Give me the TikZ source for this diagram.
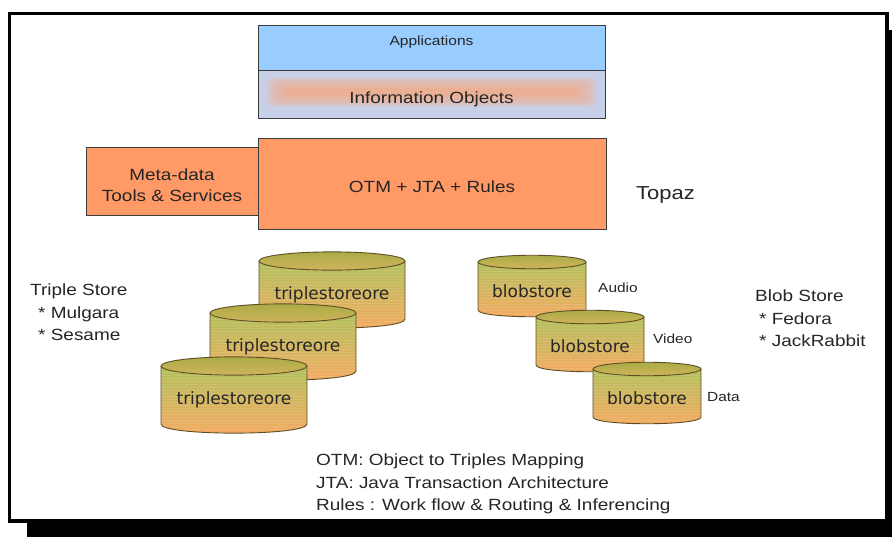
\documentclass[tikz,border=0pt]{standalone}
\usepackage{fontspec}
\setmainfont[FakeStretch=1.17]{Liberation Sans}
\newfontfamily\drumfont{DejaVu Sans}
\usetikzlibrary{calc}
\definecolor{appblue}{RGB}{153,204,255}
\definecolor{infogray}{RGB}{200,207,232}
\definecolor{gloworange}{RGB}{255,165,115}
\definecolor{boxorange}{RGB}{255,153,102}
\definecolor{edgegray}{RGB}{60,60,60}
\definecolor{drumgreen}{RGB}{178,192,92}
\definecolor{drumorange}{RGB}{246,170,98}
\definecolor{lidgreen}{RGB}{170,172,70}
\definecolor{lidtan}{RGB}{208,180,92}
\definecolor{drumbrown}{RGB}{95,78,35}

% storage drum: name, centre x, lid y, half width, body depth, label
\newcommand{\drum}[6]{%
  \path[drumshade] (#2-#4,#3) -- (#2-#4,#3+#5)
    .. controls (#2-#4,#3+#5+#4/6) and (#2+#4,#3+#5+#4/6) .. (#2+#4,#3+#5)
    -- (#2+#4,#3) -- cycle;
  \begin{scope}
    \clip (#2-#4,#3) -- (#2-#4,#3+#5)
      .. controls (#2-#4,#3+#5+#4/6) and (#2+#4,#3+#5+#4/6) .. (#2+#4,#3+#5)
      -- (#2+#4,#3) -- cycle;
    \foreach \k in {0,3,...,78}
      \draw[drumstripe] (#2-#4,#3+\k) -- (#2+#4,#3+\k);
  \end{scope}
  \draw[drumedge] (#2-#4,#3) -- (#2-#4,#3+#5)
    .. controls (#2-#4,#3+#5+#4/6) and (#2+#4,#3+#5+#4/6) .. (#2+#4,#3+#5)
    -- (#2+#4,#3);
  \draw[drumedge, drumlid] (#2,#3) ellipse[x radius=#4, y radius=#4/8];
  \node[drumtext] (#1) at (#2,#3+#5/2+5) {#6};
}

\begin{document}
\begin{tikzpicture}[x=1pt, y=-1pt,
  every node/.style={inner sep=0pt, text=black!85},
  box/.style={draw=edgegray, line width=0.9pt},
  lbl/.style={font=\fontsize{16.2}{22.4}\selectfont, align=left},
  small/.style={font=\fontsize{13.2}{16}\selectfont},
  drumshade/.style={top color=drumgreen, bottom color=drumorange},
  drumstripe/.style={draw=white, opacity=0.12, line width=0.9pt},
  drumedge/.style={draw=drumbrown, line width=0.9pt},
  drumlid/.style={top color=lidgreen, bottom color=lidtan},
  drumtext/.style={font=\drumfont\fontsize{17}{20}\selectfont, text=black!85}
]
  \useasboundingbox (0,0) rectangle (892,536);
  \clip (0,0) rectangle (892,536);

  % page frame with its shadow
  \fill[black] (27,30) rectangle (910,550);
  \fill[white] (9.5,13.5) rectangle (887,521);
  \draw[line width=3.6pt] (9.5,13.5) rectangle (887,521);

  % top stack
  \node[box, fill=appblue, minimum width=347pt, minimum height=45pt] (apps) at (431.5,47.5) {};
  \node[box, fill=infogray, minimum width=347pt, minimum height=48pt,
    path picture={
      \foreach \i in {0,...,7}
        \fill[gloworange, opacity=0.13, rounded corners=6pt]
          ($(path picture bounding box.center)+(-166+3*\i,-17+1.6*\i)$) rectangle
          ($(path picture bounding box.center)+(166-3*\i,13-1.6*\i)$);
    }] (info) at (431.5,94) {};
  \node[font=\fontsize{13.3}{16}\selectfont] (appstext) at (431.5,42) {Applications};
  \node[font=\fontsize{16.2}{20}\selectfont] (infotext) at (431.5,99.5) {Information Objects};

  % Topaz layer
  \node[box, fill=boxorange, minimum width=172pt, minimum height=68pt, lbl, align=center] (meta) at (172,181)
    {\raisebox{-4pt}[\height][\depth]{\shortstack{Meta-data\\[6pt]Tools \& Services}}};
  \node[box, fill=boxorange, minimum width=348pt, minimum height=91pt, lbl, text height=17pt, text depth=0pt] (otm) at (432,184) {OTM + JTA + Rules};
  \node[font=\fontsize{18.8}{22}\selectfont, anchor=base west] (topaz) at (636,199) {Topaz};

  % triple stores
  \drum{ts1}{332}{261}{73}{58}{triplestoreore}
  \drum{ts2}{283}{313}{73}{58}{triplestoreore}
  \drum{ts3}{234}{366}{73}{58}{triplestoreore}

  % blob stores
  \drum{bs1}{532}{262}{54}{48}{blobstore}
  \drum{bs2}{590}{317}{54}{48}{blobstore}
  \drum{bs3}{647}{369}{54}{48}{blobstore}
  \node[small, anchor=base west] (audio) at (598,292) {Audio};
  \node[small, anchor=base west] (video) at (653,343) {Video};
  \node[small, anchor=base west] (data) at (707,401) {Data};

  % side notes and legend
  \node[lbl, anchor=north west] (triplenote) at (30,284) {Triple Store\\\hspace*{8pt}* Mulgara\\\hspace*{8pt}* Sesame};
  \node[lbl, anchor=north west] (blobnote) at (755,290) {Blob Store\\\hspace*{4pt}* Fedora\\\hspace*{4pt}* JackRabbit};
  \node[lbl, anchor=north west] (legend) at (316,454) {OTM: Object to Triples Mapping\\JTA: Java Transaction Architecture\\Rules : Work flow \& Routing \& Inferencing};
\end{tikzpicture}
\end{document}
